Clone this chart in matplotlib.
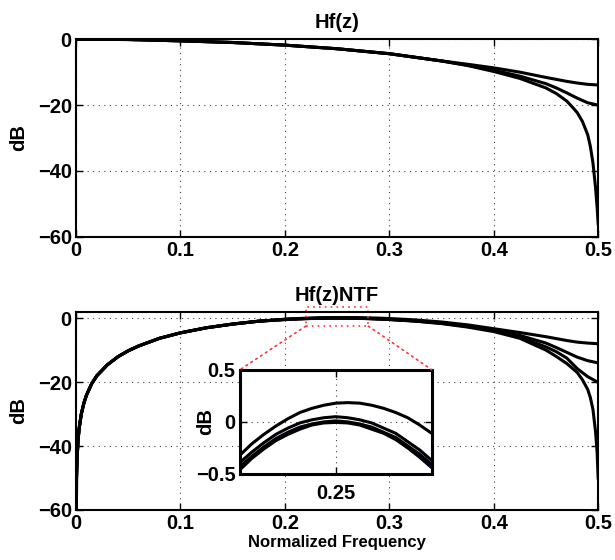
import matplotlib.pyplot as plt
from matplotlib.patches import ConnectionPatch

plt.rcParams['font.family'] = ['Liberation Sans', 'DejaVu Sans']
plt.rcParams['font.weight'] = 'bold'
plt.rcParams['font.size'] = 12

# ---- top panel: Hf(z), three filters (shared start, separate tails)
f_hf_head = [0, 0.05, 0.1, 0.15, 0.2, 0.25, 0.3, 0.35]
hf_head = [0, -0.1, -0.5, -1.0, -1.8, -2.9, -4.4, -6.6]

f_hf_tail = [0.375, 0.4, 0.425, 0.45, 0.46, 0.47, 0.48, 0.49, 0.5]
hf1_tail = [-7.6, -8.7, -10.0, -11.6, -12.2, -12.8, -13.3, -13.7, -13.9]
hf2_tail = [-7.9, -9.4, -11.2, -13.5, -14.8, -16.3, -17.9, -19.3, -20.0]

f_hf3_tail = [0.375, 0.4, 0.425, 0.45, 0.46, 0.47, 0.475, 0.48, 0.485, 0.49,
              0.4925, 0.495, 0.4975, 0.499, 0.5]
hf3_tail = [-8.0, -9.8, -11.9, -14.8, -16.5, -18.8, -20.5, -22.3, -25.0, -29.0,
            -32.5, -37.5, -45.0, -51.0, -56.0]

# ---- bottom panel: Hf(z)*NTF, four filters
f_ntf_head = [0, 0.0005, 0.001, 0.002, 0.003, 0.005, 0.0075, 0.01, 0.015, 0.02,
              0.03, 0.04, 0.05, 0.06, 0.08, 0.1, 0.125, 0.15, 0.175]
ntf_head = [-100, -50, -44, -38, -34.5, -30.1, -26.6, -24.1, -20.5, -18.0,
            -14.6, -12.1, -10.2, -8.7, -6.3, -4.6, -3.0, -1.85, -0.95]

# passband around 0.25
f_pass = [0.2, 0.20625, 0.2125, 0.21875, 0.225, 0.23125, 0.2375, 0.24375, 0.25,
          0.25625, 0.2625, 0.26875, 0.275, 0.28125, 0.2875, 0.29375, 0.3]
ntf1_pass = [-0.32, -0.21, -0.12, -0.04, 0.03, 0.09, 0.13, 0.16, 0.18,
             0.185, 0.18, 0.16, 0.13, 0.09, 0.04, -0.03, -0.11]
ntf2_pass = [-0.39, -0.29, -0.20, -0.12, -0.06, -0.01, 0.02, 0.04, 0.05,
             0.04, 0.02, -0.01, -0.06, -0.11, -0.19, -0.27, -0.37]
ntf3_pass = [-0.43, -0.33, -0.24, -0.16, -0.10, -0.05, -0.02, 0.00, 0.01,
             0.00, -0.02, -0.05, -0.10, -0.15, -0.23, -0.31, -0.41]
ntf4_pass = [-0.46, -0.35, -0.26, -0.18, -0.12, -0.07, -0.03, -0.01, -0.005,
             -0.01, -0.03, -0.07, -0.11, -0.17, -0.25, -0.34, -0.44]
# thin blue trace visible only in the zoomed inset
blue_pass = [-0.445, -0.34, -0.25, -0.17, -0.11, -0.06, -0.025, -0.005, 0.0,
             -0.005, -0.025, -0.06, -0.105, -0.16, -0.24, -0.325, -0.425]

f_ntf_tail = [0.325, 0.35, 0.375, 0.4, 0.425, 0.45, 0.46, 0.47, 0.48, 0.49, 0.5]
ntf1_tail = [-0.55, -1.2, -2.1, -3.3, -4.5, -5.8, -6.4, -7.0, -7.5, -7.8, -8.0]
ntf2_tail = [-0.85, -1.5, -2.5, -3.7, -5.4, -7.8, -9.2, -10.7, -12.2, -13.3, -14.0]
ntf3_tail = [-0.9, -1.6, -2.6, -3.9, -5.9, -9.0, -10.5, -12.5, -15.8, -18.3, -20.1]

f_ntf4_tail = [0.325, 0.35, 0.375, 0.4, 0.425, 0.45, 0.46, 0.47, 0.48, 0.485,
               0.49, 0.4925, 0.495, 0.4975, 0.499, 0.5]
ntf4_tail = [-0.95, -1.7, -2.8, -4.2, -6.3, -10.0, -12.0, -14.2, -17.0, -19.3,
             -22.3, -24.8, -28.5, -35.5, -42.0, -50.0]

ntf_curves = [
    (f_ntf_head + f_pass + f_ntf_tail, ntf_head + ntf1_pass + ntf1_tail),
    (f_ntf_head + f_pass + f_ntf_tail, ntf_head + ntf2_pass + ntf2_tail),
    (f_ntf_head + f_pass + f_ntf_tail, ntf_head + ntf3_pass + ntf3_tail),
    (f_ntf_head + f_pass + f_ntf4_tail, ntf_head + ntf4_pass + ntf4_tail),
]

TICK = 14.5


def matlab_axes(ax):
    ax.tick_params(direction='in', top=True, right=True, length=5, width=1,
                   labelsize=TICK, pad=3)
    for lbl in ax.get_xticklabels() + ax.get_yticklabels():
        lbl.set_fontweight('bold')
    for sp in ax.spines.values():
        sp.set_linewidth(1.5)
    ax.grid(True, linestyle=(0, (1, 4)), color='#444444', linewidth=0.8)


fig = plt.figure(figsize=(6.15, 5.6), dpi=100)
lw = 2.2

ax1 = fig.add_axes([0.1236, 0.577, 0.849, 0.353])
ax1.plot(f_hf_head + f_hf_tail, hf_head + hf1_tail, color='black', lw=lw)
ax1.plot(f_hf_head + f_hf_tail, hf_head + hf2_tail, color='black', lw=lw)
ax1.plot(f_hf_head + f_hf3_tail, hf_head + hf3_tail, color='black', lw=lw)
ax1.set_xlim(0, 0.5)
ax1.set_ylim(-60, 0)
ax1.set_xticks([0, 0.1, 0.2, 0.3, 0.4, 0.5])
ax1.set_xticklabels(['0', '0.1', '0.2', '0.3', '0.4', '0.5'])
ax1.set_yticks([-60, -40, -20, 0])
ax1.set_title('Hf(z)', fontsize=14.5, fontweight='bold', pad=8)
ax1.set_ylabel('dB', fontsize=TICK, fontweight='bold')
ax1.yaxis.set_label_coords(-0.092, 0.5)
matlab_axes(ax1)

ax2 = fig.add_axes([0.1236, 0.0893, 0.849, 0.354])
for fx, fy in ntf_curves:
    ax2.plot(fx, fy, color='black', lw=lw)
ax2.set_xlim(0, 0.5)
ax2.set_ylim(-60, 2)
ax2.set_xticks([0, 0.1, 0.2, 0.3, 0.4, 0.5])
ax2.set_xticklabels(['0', '0.1', '0.2', '0.3', '0.4', '0.5'])
ax2.set_yticks([-60, -40, -20, 0])
ax2.set_title('Hf(z)NTF', fontsize=14.5, fontweight='bold', pad=8)
ax2.set_ylabel('dB', fontsize=TICK, fontweight='bold')
ax2.yaxis.set_label_coords(-0.092, 0.5)
ax2.set_xlabel('Normalized Frequency', fontsize=12, fontweight='bold', labelpad=1)
matlab_axes(ax2)

# zoom inset
axin = fig.add_axes([0.390, 0.1536, 0.312, 0.186])
for i, (fx, fy) in enumerate(ntf_curves):
    axin.plot(fx, fy, color='black', lw=lw, zorder=2 if i < 3 else 2.2)
axin.plot(f_pass, blue_pass, color='#0000cc', lw=0.7, zorder=2.1)
axin.set_xlim(0.2, 0.3)
axin.set_ylim(-0.5, 0.5)
axin.set_xticks([0.25])
axin.set_xticklabels(['0.25'])
axin.set_yticks([-0.5, 0, 0.5])
axin.set_yticklabels(['\u22120.5', '0', '0.5'])
axin.set_ylabel('dB', fontsize=TICK, fontweight='bold')
axin.yaxis.set_label_coords(-0.13, 0.5)
matlab_axes(axin)
axin.tick_params(axis='x', pad=7)
for sp in axin.spines.values():
    sp.set_linewidth(2.2)

# red dotted zoom box and connectors
red = dict(color='#ff3333', lw=1.2, linestyle=(0, (1, 2.5)))
ax2.plot([0.22, 0.28, 0.28, 0.22, 0.22], [-2.5, -2.5, 3.5, 3.5, -2.5],
         clip_on=False, **red)
for xa, xb in [(0.22, 0), (0.28, 1)]:
    con = ConnectionPatch(xyA=(xa, -2.5), coordsA=ax2.transData,
                          xyB=(xb, 1), coordsB=axin.transAxes, **red)
    fig.add_artist(con)

plt.savefig('out.png', dpi=100)
